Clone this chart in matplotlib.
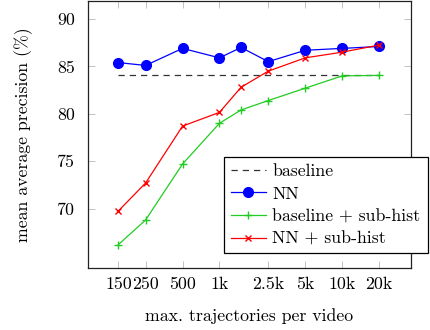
import matplotlib
matplotlib.use("Agg")
import matplotlib.pyplot as plt

plt.rcParams.update({
    "font.family": "cmr10",
    "mathtext.fontset": "cm",
    "axes.unicode_minus": False,
    "font.size": 12.8,
})

# max. trajectories per video
traj = [150, 250, 500, 1000, 1500, 2500, 5000, 10000, 20000]
tick_vals = [150, 250, 500, 1000, 2500, 5000, 10000, 20000]
tick_labels = ["150", "250", "500", "1k", "2.5k", "5k", "10k", "20k"]

baseline = [84.05, 84.05]
nn = [85.4, 85.1, 86.9, 85.9, 87.0, 85.5, 86.7, 86.9, 87.1]
base_sub = [66.2, 68.8, 74.7, 79.0, 80.4, 81.4, 82.7, 84.0, 84.05]
nn_sub = [69.75, 72.7, 78.7, 80.15, 82.8, 84.5, 85.9, 86.5, 87.25]

fig = plt.figure(figsize=(4.3, 3.3), dpi=100)
ax = fig.add_axes([0.2035, 0.187, 0.7523, 0.810])

ax.plot([traj[0], traj[-1]], baseline, color="#333333", lw=0.9, ls=(0, (5, 4)),
        label="baseline")
ax.plot(traj, nn, color="blue", lw=0.9, marker="o", ms=7, label="NN")
ax.plot(traj, base_sub, color="#22cc22", lw=0.9, marker="+", ms=6, mew=1.0,
        label="baseline + sub-hist")
ax.plot(traj, nn_sub, color="red", lw=0.9, marker="x", ms=5, mew=1.0,
        label="NN + sub-hist")

ax.set_xscale("log")
ax.set_xlim(84, 36400)
ax.set_ylim(63.7, 91.9)
ax.set_xticks(tick_vals)
ax.set_xticklabels(tick_labels)
ax.minorticks_off()
ax.set_yticks([70, 75, 80, 85, 90])
ax.tick_params(direction="in", length=5, width=0.5, color="#aaaaaa",
               top=True, right=True, labelsize=12.8)
ax.tick_params(axis="x", pad=6)
ax.tick_params(axis="y", pad=9)
for s in ax.spines.values():
    s.set_linewidth(0.9)
    s.set_color("#222222")

ax.set_xlabel("max. trajectories per video", labelpad=12)
ax.set_ylabel("mean average precision (%)", labelpad=17)

leg = ax.legend(loc="center", bbox_to_anchor=(0.5216, 0.226, 0.4734, 0.304),
                bbox_transform=fig.transFigure, mode="expand", borderaxespad=0,
                fancybox=False, framealpha=1, edgecolor="black",
                handlelength=2.0, handletextpad=0.35, labelspacing=0.4,
                borderpad=0.35, fontsize=12.8)
leg.get_frame().set_linewidth(0.9)

fig.savefig("out.png", dpi=100)
